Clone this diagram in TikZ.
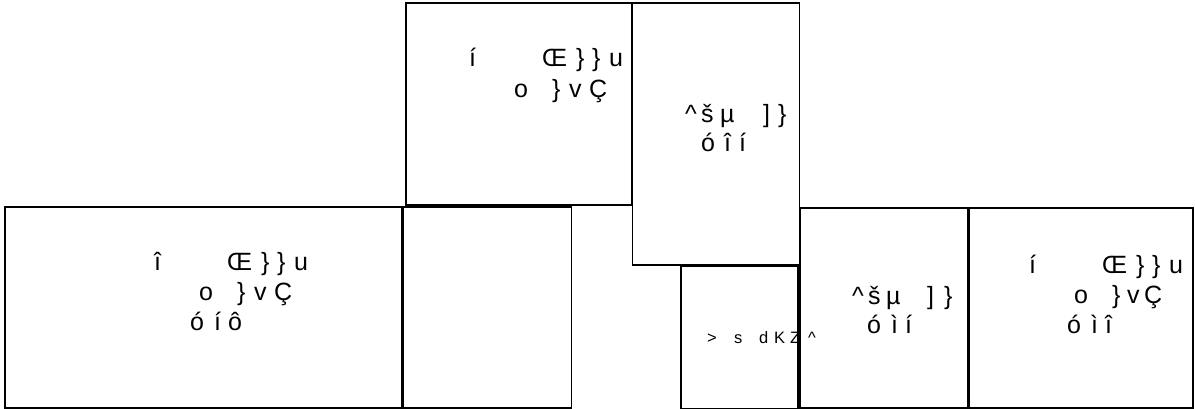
\documentclass[tikz,border=0pt]{standalone}
\usepackage{fontspec}
\setmainfont{Liberation Sans}
\newcommand\gc[2]{\makebox[#1pt][l]{#2}}
\begin{document}
\begin{tikzpicture}[x=1pt,y=-1pt,
  box/.style={draw=black, line width=1.8pt, inner sep=0pt, anchor=north west},
  lbl/.style={anchor=base west, inner sep=0pt, font=\fontsize{25}{30}\selectfont},
  smalllbl/.style={anchor=base west, inner sep=0pt, font=\fontsize{16.5}{18}\selectfont}]
\useasboundingbox (0,0) rectangle (1195,409);
% rooms
\node[box, minimum width=226pt, minimum height=202pt] (r1) at (405,2) {};
\node[box, minimum width=167pt, minimum height=262pt] (r2) at (631.5,2) {};
\node[box, minimum width=397pt, minimum height=201pt] (r3) at (4,206) {};
\node[box, minimum width=168pt, minimum height=201pt] (r4) at (402.5,206) {};
\node[box, minimum width=117pt, minimum height=142pt] (r5) at (680,265.5) {};
\node[box, minimum width=168pt, minimum height=200pt] (r6) at (799,207) {};
\node[box, minimum width=224pt, minimum height=200pt] (r7) at (968,207) {};
% texts room 1
\node[lbl] (t1a) at (469,67) {\gc{73}{í}\gc{34}{Œ}\gc{16}{\}}\gc{17}{\}}u};
\node[lbl] (t1b) at (514,98) {\gc{38}{o}\gc{17}{\}}\gc{20}{v}Ç};
% room 2
\node[lbl] (t2a) at (685,123) {\gc{16}{\^{}}\gc{19}{š}\gc{43}{µ}\gc{15}{]}\}};
\node[lbl] (t2b) at (701,152) {\gc{23}{ó}\gc{15}{î}í};
% room 3
\node[lbl] (t3a) at (154,270) {\gc{73}{î}\gc{34}{Œ}\gc{16}{\}}\gc{17}{\}}u};
\node[lbl] (t3b) at (199,300) {\gc{38}{o}\gc{17}{\}}\gc{20}{v}Ç};
\node[lbl] (t3c) at (190,330) {\gc{24}{ó}\gc{14}{í}ô};
% small room
\node[smalllbl] (t5a) at (707,343) {\gc{27}{>}\gc{25}{s}\gc{15}{d}\gc{16}{K}\gc{18}{Z}\^{}};
% room 6
\node[lbl] (t6a) at (852,304) {\gc{16}{\^{}}\gc{18}{š}\gc{41}{µ}\gc{17}{]}\}};
\node[lbl] (t6b) at (867,333) {\gc{24}{ó}\gc{14}{ì}í};
% room 7
\node[lbl] (t7a) at (1029,273) {\gc{73}{í}\gc{34}{Œ}\gc{16}{\}}\gc{17}{\}}u};
\node[lbl] (t7b) at (1074,303) {\gc{38}{o}\gc{15}{\}}\gc{17}{v}Ç};
\node[lbl] (t7c) at (1067,333) {\gc{24}{ó}\gc{14}{ì}î};
\end{tikzpicture}
\end{document}
